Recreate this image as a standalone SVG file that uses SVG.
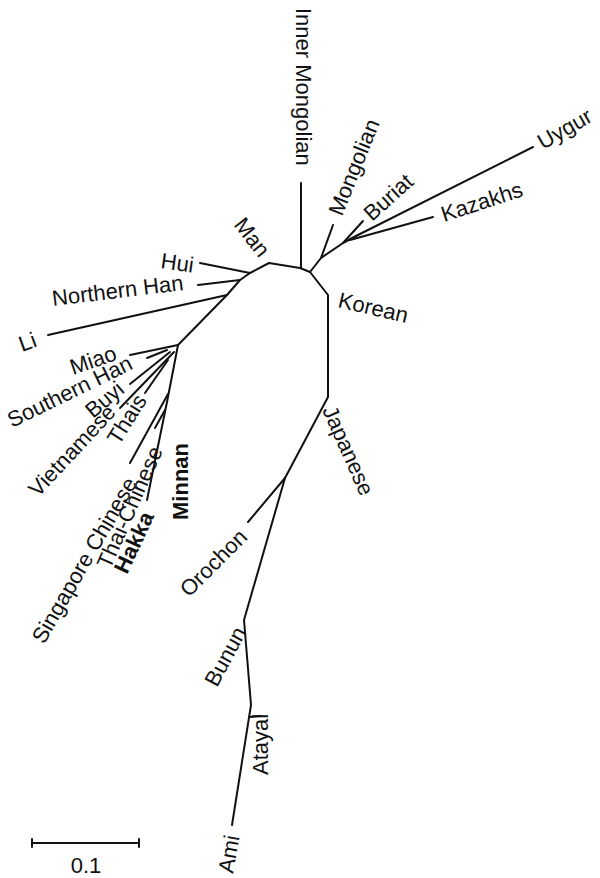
<svg xmlns="http://www.w3.org/2000/svg" width="600" height="878" viewBox="0 0 600 878">
  <style>
    .br { fill: none; stroke: #111; stroke-width: 2; stroke-linecap: round; stroke-linejoin: round; }
    .lb { font-family: "Liberation Sans", Arial, sans-serif; font-size: 22px; fill: #111; }
    .bold { font-weight: bold; }
  </style>
  <rect width="600" height="878" fill="#fff"/>

  <!-- tree branches -->
  <g id="connectors">
    <!-- central backbone -->
    <polyline class="br" points="178,345 227,295 240,280 250,273 269,263 300,268 310,272"/>
    <line class="br" x1="301" y1="268" x2="301" y2="183"/>
    <!-- northern clade -->
    <polyline class="br" points="310,272 321,258 343,243 356,236"/>
    <line class="br" x1="321" y1="258" x2="333" y2="225"/>
    <line class="br" x1="343" y1="243" x2="363" y2="221"/>
    <line class="br" x1="356" y1="236" x2="533" y2="147"/>
    <line class="br" x1="350" y1="240" x2="433" y2="217"/>
    <!-- north-east to south chain -->
    <polyline class="br" points="310,272 328,295 328,397 285,478 244,620 251,705 232,825"/>
    <line class="br" x1="285" y1="478" x2="248" y2="522"/>
    <line class="br" x1="249" y1="717" x2="261" y2="716"/>
    <!-- left tips off the backbone -->
    <line class="br" x1="250" y1="273" x2="200" y2="263"/>
    <line class="br" x1="240" y1="280" x2="198" y2="285"/>
    <line class="br" x1="227" y1="295" x2="48" y2="335"/>
    <!-- southern cluster -->
    <line class="br" x1="178" y1="345" x2="130" y2="355"/>
    <line class="br" x1="167" y1="350" x2="147" y2="358"/>
    <line class="br" x1="170" y1="352" x2="130" y2="384"/>
    <line class="br" x1="168" y1="360" x2="145" y2="393"/>
    <line class="br" x1="174" y1="352" x2="120" y2="408"/>
    <polyline class="br" points="178,345 167,402 147,500"/>
    <line class="br" x1="168" y1="394" x2="130" y2="463"/>
    <line class="br" x1="165" y1="410" x2="155" y2="428"/>
  </g>

  <!-- tip labels -->
  <g id="inner-mongolian"><text class="lb" transform="translate(296,8) rotate(90)">Inner Mongolian</text></g>
  <g id="mongolian"><text class="lb" transform="translate(342,217) rotate(-68)">Mongolian</text></g>
  <g id="buriat"><text class="lb" transform="translate(372,222) rotate(-42)">Buriat</text></g>
  <g id="kazakhs"><text class="lb" transform="translate(444,222) rotate(-18)">Kazakhs</text></g>
  <g id="uygur"><text class="lb" transform="translate(543,150) rotate(-30)">Uygur</text></g>
  <g id="man"><text class="lb" transform="translate(233,225) rotate(52)">Man</text></g>
  <g id="hui"><text class="lb" transform="translate(160,268) rotate(8)">Hui</text></g>
  <g id="northern-han"><text class="lb" transform="translate(53,306) rotate(-7)">Northern Han</text></g>
  <g id="li"><text class="lb" transform="translate(22,352) rotate(-20)">Li</text></g>
  <g id="miao"><text class="lb" transform="translate(73,375) rotate(-19)">Miao</text></g>
  <g id="southern-han"><text class="lb" transform="translate(12,428) rotate(-26)">Southern Han</text></g>
  <g id="buyi"><text class="lb" transform="translate(93,419) rotate(-40)">Buyi</text></g>
  <g id="vietnamese"><text class="lb" transform="translate(38,498) rotate(-47)">Vietnamese</text></g>
  <g id="thais"><text class="lb" transform="translate(119,446) rotate(-58)">Thais</text></g>
  <g id="singapore-chinese"><text class="lb" transform="translate(44,645) rotate(-60)">Singapore Chinese</text></g>
  <g id="thai-chinese"><text class="lb" transform="translate(110,570) rotate(-66)">Thai-Chinese</text></g>
  <g id="hakka"><text class="lb bold" transform="translate(127,575) rotate(-65)">Hakka</text></g>
  <g id="minnan"><text class="lb bold" transform="translate(188,520) rotate(-90)">Minnan</text></g>
  <g id="korean"><text class="lb" transform="translate(337,307) rotate(13)">Korean</text></g>
  <g id="japanese"><text class="lb" transform="translate(322,410) rotate(66)">Japanese</text></g>
  <g id="orochon"><text class="lb" transform="translate(189,598) rotate(-45)">Orochon</text></g>
  <g id="bunun"><text class="lb" transform="translate(217,688) rotate(-62)">Bunun</text></g>
  <g id="atayal"><text class="lb" transform="translate(268,775) rotate(-90)">Atayal</text></g>
  <g id="ami"><text class="lb" transform="translate(233,874) rotate(-80)">Ami</text></g>

  <!-- scale bar -->
  <g id="scale-bar">
    <polyline class="br" points="32,839 32,847 32,843 139,843 139,839 139,847"/>
    <text class="lb" x="86" y="873" text-anchor="middle" font-size="20">0.1</text>
  </g>
</svg>
